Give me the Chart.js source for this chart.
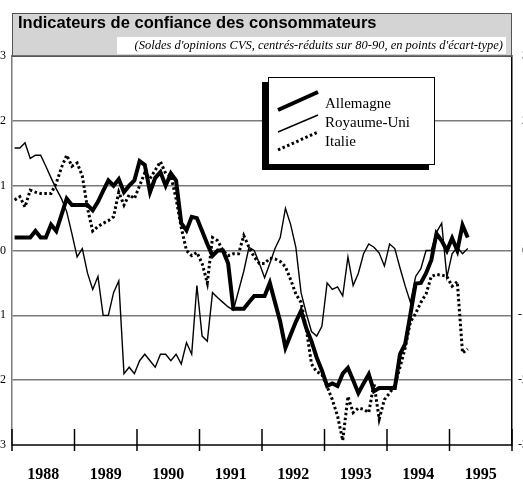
<!DOCTYPE html>
<html><head><meta charset="utf-8">
<script src="https://cdn.jsdelivr.net/npm/chart.js@4"></script>
<style>
html,body{margin:0;padding:0;overflow:hidden;background:#fff;width:523px;height:481px;}
#wrap{position:absolute;left:-20px;top:0;}
</style></head><body>
<div id="wrap"><canvas id="c" width="548" height="481"></canvas></div>
<script>
const titleText = 'Indicateurs de confiance des consommateurs';
const subtitleText = "(Soldes d'opinions CVS, centrés-réduits sur 80-90, en points d'écart-type)";
const years = ['1988','1989','1990','1991','1992','1993','1994','1995'];
const startYear = 1988;
const seriesNames = ['Allemagne', 'Royaume-Uni', 'Italie'];

// monthly values, Jan 1988 .. Apr 1995
const allemagne = [
  0.2,0.2,0.2,0.2,0.3,0.2,0.2,0.4,0.3,0.55,
  0.8,0.7,0.7,0.7,0.7,0.62,0.75,0.92,1.08,1.0,
  1.1,0.9,1.0,1.08,1.38,1.32,0.9,1.12,1.21,1.0,
  1.19,1.08,0.42,0.31,0.52,0.5,0.3,0.1,-0.08,0,
  0,-0.2,-0.9,-0.9,-0.9,-0.8,-0.7,-0.7,-0.7,-0.5,
  -0.8,-1.1,-1.5,-1.3,-1.1,-0.93,-1.2,-1.4,-1.65,-1.85,
  -2.09,-2.05,-2.09,-1.9,-1.81,-2.0,-2.2,-2.05,-1.91,-2.17,
  -2.12,-2.12,-2.12,-2.12,-1.6,-1.44,-0.98,-0.51,-0.5,-0.35,
  -0.15,0.26,0.15,0.0,0.19,0.0,0.39,0.2
];
const royaumeUni = [
  1.58,1.58,1.66,1.42,1.47,1.47,1.3,1.12,0.95,0.8,
  0.6,0.26,-0.1,0.03,-0.35,-0.6,-0.4,-1.0,-1.0,-0.65,
  -0.47,-1.9,-1.8,-1.9,-1.7,-1.6,-1.7,-1.8,-1.6,-1.6,
  -1.7,-1.6,-1.75,-1.42,-1.6,-0.54,-1.32,-1.4,-0.65,-0.73,
  -0.8,-0.87,-0.92,-0.62,-0.32,0.05,0.0,-0.2,-0.42,-0.2,
  0.03,0.2,0.65,0.4,0.05,-0.65,-0.97,-1.25,-1.32,-1.17,
  -0.5,-0.6,-0.56,-0.7,-0.1,-0.54,-0.35,-0.05,0.1,0.05,
  -0.04,-0.24,0.1,0.03,-0.27,-0.55,-0.8,-0.4,-0.28,0.0,
  0.0,0.28,0.42,-0.41,-0.05,0.05,-0.05,0.03
];
const italie = [
  0.78,0.83,0.67,0.93,0.9,0.88,0.88,0.88,1.04,1.28,
  1.47,1.3,1.35,1.15,0.65,0.3,0.37,0.42,0.46,0.52,
  0.9,0.7,0.86,0.8,1.0,1.2,1.11,1.24,1.37,1.19,
  1.15,0.8,0.35,0.0,-0.08,-0.03,-0.2,-0.5,0.2,0.15,
  0.0,-0.08,-0.05,-0.05,0.23,0.05,-0.1,-0.2,-0.2,-0.12,
  -0.13,-0.17,-0.25,-0.45,-0.67,-0.8,-1.2,-1.75,-1.87,-1.91,
  -2.1,-2.3,-2.55,-2.93,-2.25,-2.5,-2.43,-2.45,-2.5,-2.05,
  -2.6,-2.3,-2.2,-2.08,-1.8,-1.5,-1.1,-0.97,-0.8,-0.67,
  -0.4,-0.37,-0.38,-0.4,-0.55,-0.48,-1.58,-1.52
];

const toPoints = arr => arr.map((v, i) => ({x: startYear + (i + 0.5) / 12, y: v}));

const SERIF = '"Liberation Serif", "Times New Roman", serif';
const SANS = '"Liberation Sans", Arial, sans-serif';

const styles = [
  {borderWidth: 4, borderDash: []},
  {borderWidth: 1.4, borderDash: []},
  {borderWidth: 3, borderDash: [2.5, 2.5]}
];

const framePlugin = {
  id: 'frame',
  afterDatasetsDraw(chart) {
    const {ctx, chartArea: a, scales: {x}} = chart;
    ctx.save();
    // bottom axis + year ticks
    ctx.strokeStyle = '#000';
    ctx.lineWidth = 1.5;
    ctx.beginPath(); ctx.moveTo(a.left, a.bottom); ctx.lineTo(a.right, a.bottom); ctx.stroke();
    for (let k = 0; k <= years.length; k++) {
      const px = x.getPixelForValue(startYear + k);
      ctx.beginPath(); ctx.moveTo(px, a.bottom - 16); ctx.lineTo(px, a.bottom + 6); ctx.stroke();
    }
    // title box
    const tTop = 13;
    ctx.fillStyle = '#d4d4d4';
    ctx.fillRect(a.left, tTop, a.right - a.left, a.top - tTop);
    ctx.strokeStyle = '#555';
    ctx.lineWidth = 1;
    ctx.strokeRect(a.left + 0.5, tTop + 0.5, a.right - a.left - 1, a.top - tTop);
    ctx.fillStyle = '#000';
    ctx.font = 'bold 16.5px ' + SANS;
    ctx.textBaseline = 'alphabetic';
    ctx.textAlign = 'left';
    ctx.fillText(titleText, a.left + 6, tTop + 15);
    // subtitle white box
    ctx.fillStyle = '#fff';
    ctx.fillRect(a.left + 105, tTop + 24, a.right - a.left - 111, a.top - tTop - 26);
    ctx.fillStyle = '#000';
    ctx.font = 'italic 12.5px ' + SERIF;
    ctx.textAlign = 'right';
    ctx.fillText(subtitleText, a.right - 9, tTop + 35.5);
    // top gridline / box bottom
    ctx.strokeStyle = '#555';
    ctx.lineWidth = 1.5;
    ctx.beginPath(); ctx.moveTo(a.left, a.top); ctx.lineTo(a.right, a.top); ctx.stroke();

    // legend box
    const bx = a.left + 256, by = 77, bw = 167, bh = 88;
    ctx.fillStyle = '#000';
    ctx.fillRect(bx - 6, by + 5, bw, bh);
    ctx.fillStyle = '#fff';
    ctx.fillRect(bx, by, bw, bh);
    ctx.strokeStyle = '#000';
    ctx.lineWidth = 1;
    ctx.strokeRect(bx + 0.5, by + 0.5, bw - 1, bh - 1);
    const rows = [
      {y1: 110, y2: 92, ty: 107.7},
      {y1: 132, y2: 115, ty: 126.7},
      {y1: 150, y2: 132, ty: 145.7}
    ];
    rows.forEach((r, i) => {
      const ds = chart.data.datasets[i];
      ctx.strokeStyle = '#000';
      ctx.lineWidth = ds.borderWidth;
      ctx.setLineDash(ds.borderDash || []);
      ctx.beginPath();
      ctx.moveTo(bx + 10, r.y1);
      ctx.lineTo(bx + 50, r.y2);
      ctx.stroke();
      ctx.setLineDash([]);
      ctx.fillStyle = '#000';
      ctx.font = '15px ' + SERIF;
      ctx.textAlign = 'left';
      ctx.fillText(ds.label, bx + 57, r.ty);
    });
    ctx.restore();
  }
};

new Chart(document.getElementById('c'), {
  type: 'line',
  data: {
    datasets: [
      {label: seriesNames[0], data: toPoints(allemagne), ...styles[0]},
      {label: seriesNames[1], data: toPoints(royaumeUni), ...styles[1]},
      {label: seriesNames[2], data: toPoints(italie), ...styles[2]}
    ].map(d => Object.assign(d, {borderColor: '#000', backgroundColor: '#000', pointRadius: 0, tension: 0, fill: false, borderJoinStyle: 'miter', borderCapStyle: 'butt', yAxisID: 'y'}))
  },
  options: {
    responsive: false,
    animation: false,
    devicePixelRatio: 1,
    layout: {padding: {top: 56, left: 0, right: 0, bottom: 0}},
    plugins: {legend: {display: false}, tooltip: {enabled: false}, title: {display: false}},
    scales: {
      x: {
        type: 'linear', min: startYear, max: startYear + years.length,
        afterBuildTicks: s => { s.ticks = years.map((_, k) => ({value: startYear + k + 0.5})); },
        afterFit: s => { s.height = 36; },
        grid: {display: false},
        border: {display: false},
        ticks: {
          autoSkip: false, maxRotation: 0, padding: 12,
          callback: (v, i) => years[i],
          color: '#000',
          font: {family: SERIF, size: 16, weight: 'bold'}
        }
      },
      y: {
        position: 'left', min: -3, max: 3,
        afterFit: s => { s.width = 32; },
        ticks: {stepSize: 1, padding: 6, color: '#000', font: {family: SERIF, size: 12}},
        grid: {
          drawTicks: false, lineWidth: 1.5,
          color: c => (c.tick && (c.tick.value === -3 || c.tick.value === 3)) ? 'rgba(0,0,0,0)' : '#7a7a7a'
        },
        border: {display: true, color: '#7a7a7a', width: 1.5}
      },
      y2: {
        position: 'right', min: -3, max: 3,
        afterFit: s => { s.width = 16; },
        ticks: {stepSize: 1, padding: 0, crossAlign: 'far', color: '#000', font: {family: SERIF, size: 12}},
        grid: {drawOnChartArea: false, drawTicks: false},
        border: {display: true, color: '#000', width: 1.5}
      }
    }
  },
  plugins: [framePlugin]
});
</script>
</body></html>
